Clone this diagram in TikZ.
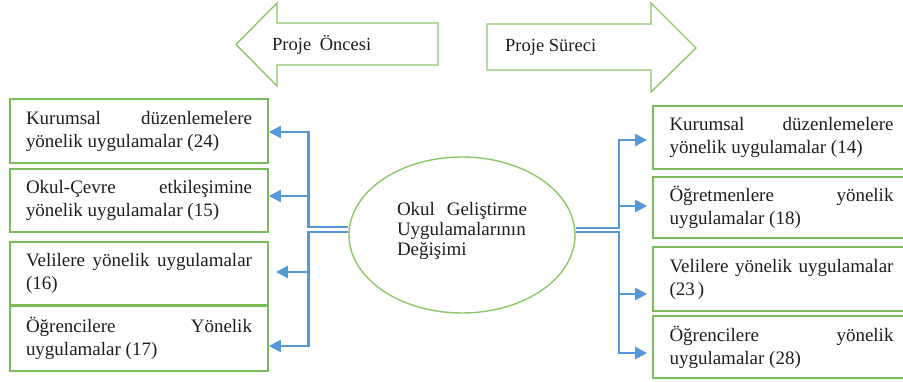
\documentclass[tikz,border=0pt]{standalone}
\usepackage{fontspec}
\setmainfont{Liberation Serif}
\usetikzlibrary{shapes.geometric,arrows.meta}
\definecolor{linkblue}{RGB}{86,152,214}
\definecolor{boxgreen}{RGB}{122,188,88}
\definecolor{shapegreen}{RGB}{140,200,105}
\definecolor{ink}{RGB}{30,30,30}

\begin{document}
\begin{tikzpicture}[x=1pt,y=-1pt,
  item/.style={draw=boxgreen, line width=1.8pt, rectangle, text=ink, align=justify,
    inner ysep=0pt, font=\fontsize{19}{23}\selectfont},
  leftitem/.style={item, text width=226pt, inner xsep=16pt},
  rightitem/.style={item, text width=224pt, inner xsep=16.5pt},
  core/.style={draw=shapegreen, line width=1.4pt, ellipse, minimum width=226pt,
    minimum height=156pt, inner sep=0pt},
  coretext/.style={text width=130pt, align=justify, text=ink,
    font=\fontsize{19}{20}\selectfont, inner sep=0pt},
  phase/.style={draw=shapegreen, line width=1.4pt, line join=miter},
  phaselabel/.style={text=ink, font=\fontsize{18.5}{22}\selectfont, inner sep=0pt},
  link/.style={draw=linkblue, line width=2.4pt},
  tolink/.style={link, -{Triangle[length=12pt,width=12pt]}},
]
\useasboundingbox (0,0) rectangle (903,382);
\clip (0,0) rectangle (903,382);

% phase arrows
\draw[phase] (236,44.5) -- (277,3) -- (277,23) -- (438,23) -- (438,65)
  -- (277,65) -- (277,86) -- cycle;
\node[phaselabel, anchor=base west] (before) at (272,51) {Proje\hspace{4pt} Öncesi};
\draw[phase] (487,24) -- (651,24) -- (651,3) -- (696,48) -- (651,92)
  -- (651,70) -- (487,70) -- cycle;
\node[phaselabel, anchor=base west] (during) at (505,52) {Proje Süreci};

% practices before the project
\node[leftitem, minimum height=64pt] (l1) at (139,131)
  {Kurumsal düzenlemelere\linebreak yönelik uygulamalar (24)};
\node[leftitem, minimum height=63pt] (l2) at (139,200.5)
  {Okul-Çevre etkileşimine\linebreak yönelik uygulamalar (15)};
\node[leftitem, minimum height=63pt] (l3) at (139,273.5)
  {Velilere yönelik uygulamalar\linebreak (16)};
\node[leftitem, minimum height=64.5pt] (l4) at (139,338.75)
  {Öğrencilere Yönelik\linebreak uygulamalar (17)};

% practices during the project
\node[rightitem, minimum height=63pt] (r1) at (781.5,137.5)
  {Kurumsal düzenlemelere\linebreak yönelik uygulamalar (14)};
\node[rightitem, minimum height=61pt] (r2) at (781.5,207.5)
  {Öğretmenlere yönelik\linebreak uygulamalar (18)};
\node[rightitem, minimum height=64pt] (r3) at (781.5,279)
  {Velilere yönelik uygulamalar\linebreak (23\thinspace)};
\node[rightitem, minimum height=62pt] (r4) at (781.5,347)
  {Öğrencilere yönelik\linebreak uygulamalar (28)};

% centre
\node[core] (core) at (462,235) {};
\node[coretext] (coretxt) at (462,231)
  {Okul Geliştirme\linebreak Uygulamalarının\linebreak Değişimi};

% links to the left
\draw[tolink] ([yshift=8pt]core.west) -- ++(-40,0) |- ([yshift=-1pt]l1.east);
\draw[tolink] ([yshift=8pt]core.west) -- ++(-40,0) |- ([yshift=4.5pt]l2.east);
\draw[tolink] ([yshift=3pt]core.west) -- ++(-40,0) |- ([xshift=7pt,yshift=1.5pt]l3.east);
\draw[tolink] ([yshift=3pt]core.west) -- ++(-40,0) |- ([yshift=-7.25pt]l4.east);

% links to the right
\draw[tolink] ([yshift=7pt]core.east) -- ++(43,0) |- ([xshift=-5pt,yshift=-2.5pt]r1.west);
\draw[tolink] ([yshift=7pt]core.east) -- ++(43,0) |- ([xshift=-5pt,yshift=1.5pt]r2.west);
\draw[tolink] ([yshift=3pt]core.east) -- ++(43,0) |- ([xshift=-5pt,yshift=-15pt]r3.west);
\draw[tolink] ([yshift=3pt]core.east) -- ++(43,0) |- ([xshift=-5pt,yshift=-6pt]r4.west);
\end{tikzpicture}
\end{document}
